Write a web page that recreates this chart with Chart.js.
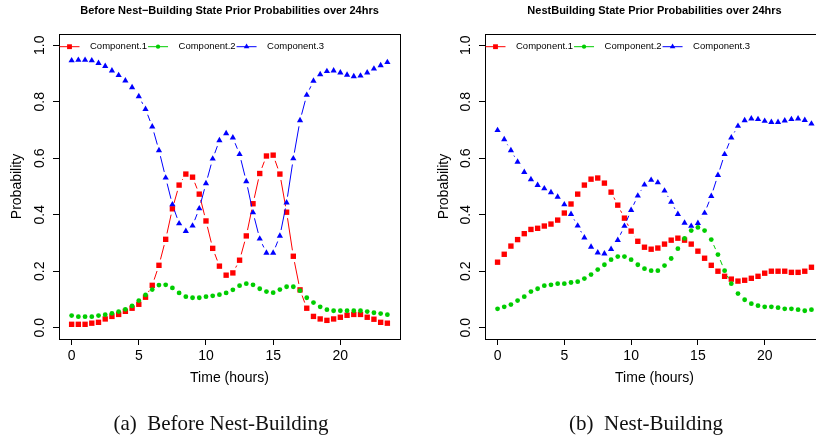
<!DOCTYPE html>
<html>
<head>
<meta charset="utf-8">
<script src="https://cdn.jsdelivr.net/npm/chart.js@4.4.1/dist/chart.umd.min.js"></script>
<style>
  html, body { margin: 0; padding: 0; background: #fff; }
  #page { position: relative; width: 816px; height: 439px; overflow: hidden; }
  canvas { position: absolute; top: 0; }
  .caption { position: absolute; top: 411px; font: 21px "Liberation Serif", serif; line-height: 24px;
             white-space: pre; color: #111; transform: translateX(-50%); }
</style>
</head>
<body>
<div id="page">
  <canvas id="before" width="408" height="439" style="left:0;width:408px;height:439px"></canvas>
  <canvas id="nest" width="424" height="439" style="left:408px;width:424px;height:439px"></canvas>
  <div class="caption" style="left:221px">(a)  Before Nest-Building</div>
  <div class="caption" style="left:646px">(b)  Nest-Building</div>
</div>
<script>
// time of day, half-hour steps
const hours = [0, 0.5, 1, 1.5, 2, 2.5, 3, 3.5, 4, 4.5, 5, 5.5, 6, 6.5, 7, 7.5,
  8, 8.5, 9, 9.5, 10, 10.5, 11, 11.5, 12, 12.5, 13, 13.5, 14, 14.5, 15, 15.5,
  16, 16.5, 17, 17.5, 18, 18.5, 19, 19.5, 20, 20.5, 21, 21.5, 22, 22.5, 23, 23.5];

// before nest-building
const beforeC1 = [0.012, 0.012, 0.012, 0.016, 0.019, 0.031, 0.040, 0.047, 0.058, 0.069, 0.083, 0.108, 0.150, 0.221, 0.313, 0.421,
  0.505, 0.544, 0.533, 0.473, 0.378, 0.281, 0.218, 0.186, 0.194, 0.239, 0.325, 0.439, 0.546, 0.608, 0.611, 0.544,
  0.409, 0.253, 0.134, 0.069, 0.040, 0.031, 0.026, 0.031, 0.037, 0.044, 0.047, 0.047, 0.037, 0.030, 0.019, 0.016];
const beforeC2 = [0.043, 0.039, 0.039, 0.039, 0.043, 0.046, 0.051, 0.057, 0.065, 0.077, 0.096, 0.116, 0.135, 0.151, 0.152, 0.141,
  0.123, 0.110, 0.106, 0.106, 0.110, 0.113, 0.117, 0.123, 0.134, 0.149, 0.156, 0.152, 0.138, 0.128, 0.124, 0.135,
  0.145, 0.145, 0.131, 0.106, 0.089, 0.074, 0.064, 0.060, 0.060, 0.060, 0.060, 0.060, 0.057, 0.053, 0.050, 0.046];
const beforeC3 = [0.946, 0.948, 0.948, 0.946, 0.937, 0.926, 0.910, 0.894, 0.875, 0.851, 0.819, 0.774, 0.712, 0.628, 0.531, 0.436,
  0.369, 0.342, 0.361, 0.422, 0.511, 0.598, 0.663, 0.688, 0.673, 0.614, 0.518, 0.408, 0.315, 0.265, 0.265, 0.325,
  0.443, 0.599, 0.734, 0.824, 0.874, 0.897, 0.908, 0.910, 0.903, 0.895, 0.890, 0.892, 0.903, 0.917, 0.929, 0.940];

// nest-building
const nestC1 = [0.232, 0.260, 0.289, 0.312, 0.333, 0.348, 0.352, 0.360, 0.367, 0.381, 0.406, 0.438, 0.473, 0.505, 0.526, 0.530,
  0.512, 0.480, 0.434, 0.388, 0.342, 0.306, 0.285, 0.278, 0.282, 0.296, 0.310, 0.317, 0.310, 0.296, 0.271, 0.246,
  0.221, 0.200, 0.182, 0.172, 0.165, 0.168, 0.175, 0.182, 0.193, 0.200, 0.200, 0.200, 0.196, 0.196, 0.200, 0.214];
const nestC2 = [0.067, 0.074, 0.082, 0.096, 0.110, 0.128, 0.138, 0.149, 0.152, 0.156, 0.156, 0.160, 0.163, 0.174, 0.188, 0.206,
  0.223, 0.241, 0.252, 0.252, 0.241, 0.223, 0.209, 0.202, 0.202, 0.220, 0.245, 0.280, 0.316, 0.344, 0.355, 0.344,
  0.312, 0.259, 0.202, 0.156, 0.121, 0.099, 0.085, 0.078, 0.074, 0.074, 0.071, 0.067, 0.067, 0.064, 0.060, 0.064];
const nestC3 = [0.699, 0.667, 0.628, 0.587, 0.551, 0.525, 0.505, 0.493, 0.479, 0.463, 0.436, 0.402, 0.361, 0.319, 0.286, 0.266,
  0.262, 0.278, 0.310, 0.360, 0.416, 0.467, 0.506, 0.523, 0.514, 0.485, 0.445, 0.402, 0.371, 0.360, 0.370, 0.406,
  0.466, 0.540, 0.614, 0.673, 0.714, 0.734, 0.740, 0.738, 0.732, 0.728, 0.728, 0.733, 0.738, 0.740, 0.735, 0.722];

const seriesNames = ['Component.1', 'Component.2', 'Component.3'];
const seriesColors = ['#FF0000', '#00CD00', '#0000FF'];
const seriesMarkers = ['rect', 'circle', 'triangle'];
const markerSize = [3.8, 2.4, 3.6];
const xTicks = [0, 5, 10, 15, 20];
const yTicks = [0, 0.2, 0.4, 0.6, 0.8, 1.0];

Chart.defaults.font.family = '"Liberation Sans", Arial, sans-serif';
Chart.defaults.color = '#000';

// R type="b": the line stops short of each point, short steps show no line at all
const GAP = 6;
function gapDash(ctx) {
  const len = Math.hypot(ctx.p1.x - ctx.p0.x, ctx.p1.y - ctx.p0.y);
  if (len <= 2 * GAP) return [0, len];
  return [0, GAP, len - 2 * GAP, GAP];
}

function marker(ctx, style, r, x, y) {
  if (Chart.helpers && Chart.helpers.drawPoint) {
    Chart.helpers.drawPoint(ctx, {pointStyle: style, radius: r, rotation: 0, borderWidth: 0}, x, y);
    return;
  }
  ctx.beginPath();
  if (style === 'rect') {
    const s = r * Math.SQRT1_2;
    ctx.rect(x - s, y - s, 2 * s, 2 * s);
  } else if (style === 'triangle') {
    ctx.moveTo(x, y - r);
    ctx.lineTo(x + r * 0.866, y + r / 2);
    ctx.lineTo(x - r * 0.866, y + r / 2);
    ctx.closePath();
  } else {
    ctx.arc(x, y, r, 0, Math.PI * 2);
  }
  ctx.fill();
}

// box round the plot, title over the plot region, legend inside the top left corner
const frame = {
  id: 'frame',
  afterDatasetsDraw(chart, args, opts) {
    const {ctx, chartArea: a} = chart;
    ctx.save();
    ctx.strokeStyle = '#000';
    ctx.lineWidth = 1;
    ctx.strokeRect(Math.round(a.left) + 0.5, Math.round(a.top) + 0.5,
      Math.round(a.right - a.left), Math.round(a.bottom - a.top));

    ctx.fillStyle = '#000';
    ctx.font = 'bold 11px "Liberation Sans", Arial, sans-serif';
    ctx.textAlign = 'center';
    ctx.textBaseline = 'middle';
    ctx.fillText(opts.text, (a.left + a.right) / 2, 11);

    ctx.font = '9.5px "Liberation Sans", Arial, sans-serif';
    ctx.textAlign = 'left';
    const ly = 46.7;
    let mx = a.left + 10.5;
    chart.data.datasets.forEach(ds => {
      ctx.strokeStyle = ds.borderColor;
      ctx.beginPath();
      ctx.moveTo(mx - 10, ly);
      ctx.lineTo(mx + 10, ly);
      ctx.stroke();
      ctx.fillStyle = ds.pointBackgroundColor;
      marker(ctx, ds.pointStyle, ds.pointRadius * 0.9, mx, ly);
      ctx.fillStyle = '#000';
      const tx = mx + 20.5;
      ctx.fillText(ds.label, tx, ly);
      mx = tx + ctx.measureText(ds.label).width + 11;
    });
    ctx.restore();
  }
};

function makeChart(id, title, series, yWidth, yTitlePad) {
  const datasets = series.map((vals, i) => ({
    label: seriesNames[i],
    data: hours.map((h, k) => ({x: h, y: vals[k]})),
    borderColor: seriesColors[i],
    borderWidth: 1,
    pointStyle: seriesMarkers[i],
    pointRadius: markerSize[i],
    pointBackgroundColor: seriesColors[i],
    pointBorderWidth: 0,
    fill: false,
    order: 2 - i,
    segment: {borderDash: gapDash}
  }));

  const axisGrid = {drawOnChartArea: false, drawTicks: true, tickLength: 6, color: '#000', lineWidth: 1};

  return new Chart(document.getElementById(id), {
    type: 'line',
    data: {datasets: datasets},
    options: {
      responsive: false,
      animation: false,
      events: [],
      layout: {padding: {left: 0, right: 8, top: 34, bottom: 0}},
      plugins: {
        legend: {display: false},
        tooltip: {enabled: false},
        frame: {text: title}
      },
      scales: {
        x: {
          type: 'linear',
          min: -0.94,
          max: 24.44,
          afterBuildTicks: s => { s.ticks = xTicks.map(v => ({value: v})); },
          afterFit: s => { s.height = 100; },
          grid: axisGrid,
          border: {display: false},
          ticks: {font: {size: 14}, padding: 3, maxRotation: 0, autoSkip: false},
          title: {display: true, text: 'Time (hours)', font: {size: 14}, padding: {top: 0, bottom: 52}}
        },
        y: {
          type: 'linear',
          min: -0.04,
          max: 1.04,
          afterBuildTicks: s => { s.ticks = yTicks.map(v => ({value: v})); },
          afterFit: s => { s.width = yWidth; },
          grid: axisGrid,
          border: {display: false},
          ticks: {
            font: {size: 14}, padding: 3.3, minRotation: 90, maxRotation: 90,
            crossAlign: 'center', autoSkip: false,
            callback: v => v.toFixed(1)
          },
          title: {display: true, text: 'Probability', font: {size: 14}, padding: {top: yTitlePad, bottom: 0}}
        }
      }
    },
    plugins: [frame]
  });
}

makeChart('before', 'Before Nest\u2212Building State Prior Probabilities over 24hrs',
  [beforeC1, beforeC2, beforeC3], 59, 9.2);
makeChart('nest', 'NestBuilding State Prior Probabilities over 24hrs',
  [nestC1, nestC2, nestC3], 77, 27.4);
</script>
</body>
</html>
